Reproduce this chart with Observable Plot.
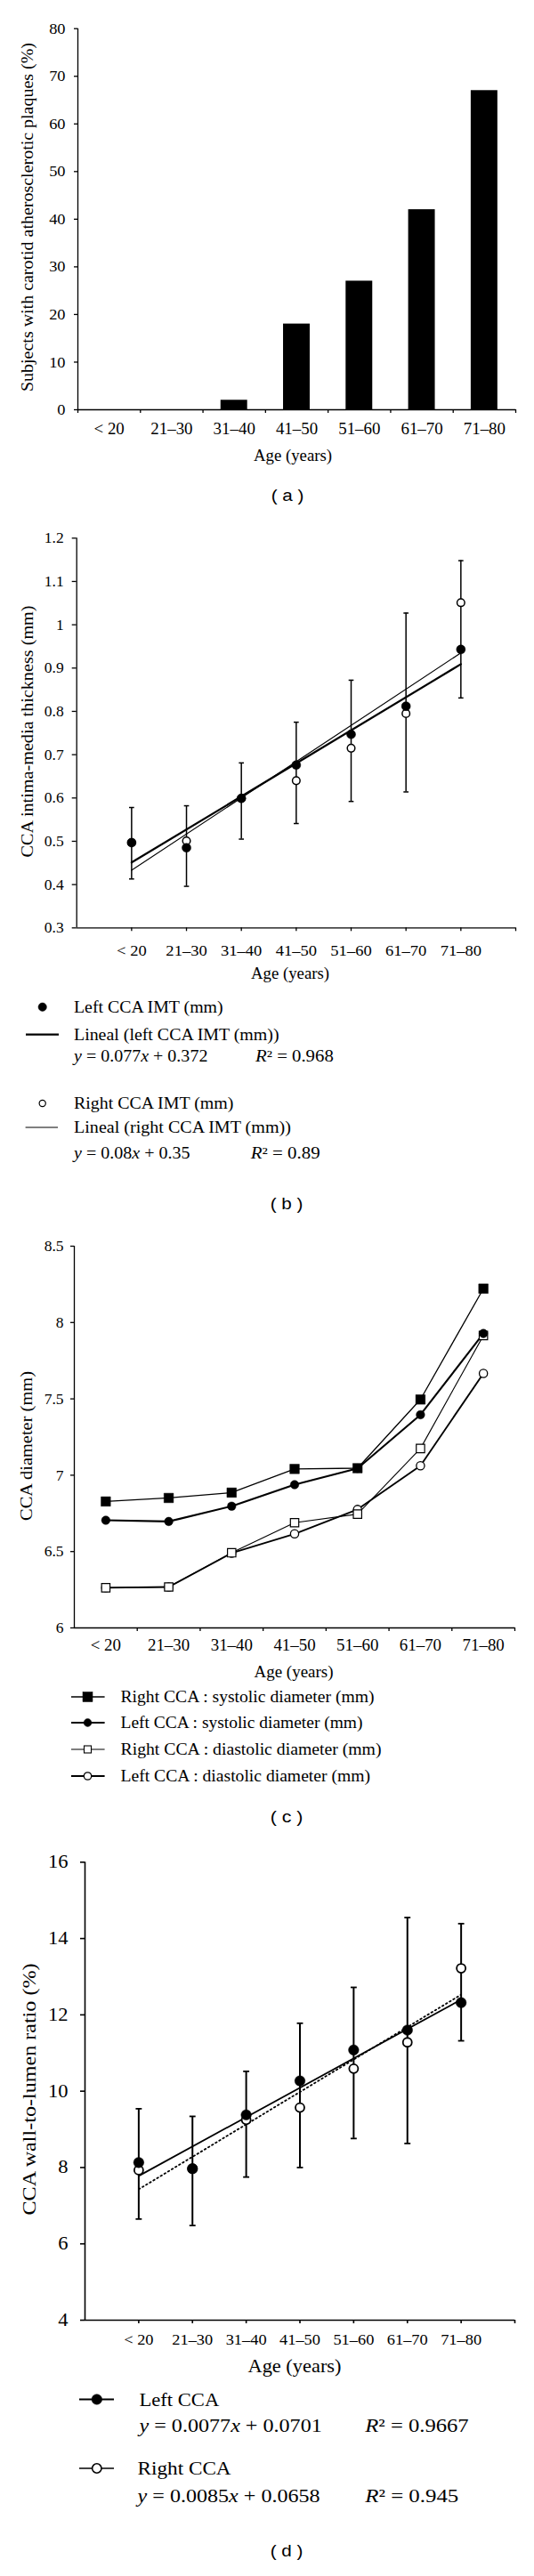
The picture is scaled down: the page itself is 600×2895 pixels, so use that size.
<!DOCTYPE html>
<html>
<head>
<meta charset="utf-8">
<script src="https://cdn.jsdelivr.net/npm/d3@7"></script>
<script src="https://cdn.jsdelivr.net/npm/@observablehq/plot@0.6"></script>
<style>
  html, body { margin: 0; padding: 0; background: #fff; }
  #wrap { position: relative; width: 600px; height: 2895px; overflow: hidden; background: #fff; }
  #wrap > svg { position: absolute; left: 0; }
</style>
</head>
<body>
<div id="wrap"></div>
<script>
const SERIF = "'Liberation Serif','DejaVu Serif',serif";
const SANS = "'Liberation Sans','DejaVu Sans',sans-serif";

// ---------- DATA ----------
const ageGroups = ["< 20", "21–30", "31–40", "41–50", "51–60", "61–70", "71–80"];

// (a) subjects with carotid atherosclerotic plaques (%)
const plaquePct = [0, 0, 2, 18, 27, 42, 67];

// (b) CCA intima-media thickness (mm)
const imtLeft      = [0.497, 0.485, 0.599, 0.676, 0.747, 0.812, 0.943];
const imtRight     = [0.497, 0.501, 0.599, 0.640, 0.715, 0.795, 1.051];
const imtErrHigh   = [0.578, 0.582, 0.681, 0.775, 0.872, 1.027, 1.148];
const imtErrLow    = [0.413, 0.396, 0.505, 0.541, 0.592, 0.614, 0.831];
const imtTrendLeft  = [0.451, 0.909];  // fitted line at first / last group
const imtTrendRight = [0.433, 0.935];
const imtTicks = [0.3, 0.4, 0.5, 0.6, 0.7, 0.8, 0.9, 1, 1.1, 1.2];

// (c) CCA diameter (mm)
const rightSystolic  = [6.828, 6.851, 6.886, 7.041, 7.046, 7.496, 8.222];
const leftSystolic   = [6.705, 6.697, 6.797, 6.938, 7.045, 7.396, 7.928];
const rightDiastolic = [6.263, 6.268, 6.492, 6.689, 6.745, 7.175, 7.915];
const leftDiastolic  = [6.263, 6.268, 6.490, 6.616, 6.776, 7.062, 7.667];
const diamTicks = [6, 6.5, 7, 7.5, 8, 8.5];

// (d) CCA wall-to-lumen ratio (%)
const wlrLeft    = [8.13, 7.97, 9.38, 10.27, 11.08, 11.60, 12.32];
const wlrRight   = [7.93, 7.97, 9.25, 9.57, 10.59, 11.28, 13.22];
const wlrErrHigh = [9.54, 9.34, 10.52, 11.78, 12.72, 14.55, 14.39];
const wlrErrLow  = [6.65, 6.48, 7.75, 8.00, 8.76, 8.63, 11.32];
const wlrTrendLeft  = [7.78, 12.40];
const wlrTrendRight = [7.43, 12.53];
const wlrTicks = [4, 6, 8, 10, 12, 14, 16];

// ---------- HELPERS ----------
const wrap = d3.select("#wrap");
function place(svg, top, fonts) {
  svg.style.position = "absolute";
  svg.style.top = top + "px";
  svg.style.left = "0px";
  wrap.node().appendChild(svg);
  // enforce tick label font sizes and a slight horizontal stretch (wider book face)
  d3.select(svg).selectAll("g[aria-label]").each(function () {
    const f = fonts[this.getAttribute("aria-label")];
    if (!f) return;
    d3.select(this).style("font-size", f.size + "px").style("font-family", SERIF);
    d3.select(this).selectAll("text").each(function () {
      const w = this.getComputedTextLength();
      if (w > 0 && f.stretch) {
        this.setAttribute("textLength", w * f.stretch);
        this.setAttribute("lengthAdjust", "spacingAndGlyphs");
      }
    });
  });
}
const baseStyle = (fs) => ({fontFamily: SERIF, fontSize: fs + "px", color: "#000", background: "none", overflow: "visible"});
const AX = 1.3;

// ---------- PANEL A ----------
const tableA = ageGroups.map((g, i) => ({group: g, pos: i + 0.5, value: plaquePct[i]}));
const BAR_HALF = 0.213;
const pa = Plot.plot({
  width: 600, height: 530,
  marginTop: 31.7, marginBottom: 70, marginLeft: 87, marginRight: 21,
  style: baseStyle(18),
  x: {type: "linear", domain: [0, 7]},
  y: {type: "linear", domain: [0, 80]},
  marks: [
    Plot.rectY(tableA.filter(d => d.value > 0), {x1: d => d.pos - BAR_HALF, x2: d => d.pos + BAR_HALF, y: "value", fill: "#000"}),
    Plot.ruleX([0], {stroke: "#000", strokeWidth: AX}),
    Plot.ruleY([0], {stroke: "#000", strokeWidth: AX}),
    Plot.axisY({ticks: d3.range(0, 81, 10), tickSize: 4, tickPadding: 10, strokeWidth: AX, label: null}),
    Plot.axisX({ticks: d3.range(0, 8), tickSize: 4, strokeWidth: AX, tickFormat: () => "", label: null}),
    Plot.axisX({ticks: tableA.map(d => d.pos), tickSize: 0, tickPadding: 15, tickFormat: t => ageGroups[Math.floor(t)], label: null})
  ]
});
place(pa, 0, {"x-axis tick label": {size: 18, stretch: 1.05}, "y-axis tick label": {size: 17.5, stretch: 1.05}});

// ---------- PANEL B ----------
const tableB = ageGroups.map((g, i) => ({group: g, pos: i + 1, left: imtLeft[i], right: imtRight[i], hi: imtErrHigh[i], lo: imtErrLow[i]}));
const trendB = [
  {pos: 1, left: imtTrendLeft[0], right: imtTrendRight[0]},
  {pos: ageGroups.length, left: imtTrendLeft[1], right: imtTrendRight[1]}
];
const CAP_B = 0.046;
const pb = Plot.plot({
  width: 600, height: 500,
  marginTop: 24.3, marginBottom: 37.7, marginLeft: 85.7, marginRight: 21,
  style: baseStyle(17.5),
  x: {type: "linear", domain: [0, 8]},
  y: {type: "linear", domain: [0.3, 1.2]},
  marks: [
    Plot.ruleX(tableB, {x: "pos", y1: "lo", y2: "hi", stroke: "#000", strokeWidth: 1.5}),
    Plot.link(tableB, {x1: d => d.pos - CAP_B, x2: d => d.pos + CAP_B, y1: "hi", y2: "hi", stroke: "#000", strokeWidth: 1.5}),
    Plot.link(tableB, {x1: d => d.pos - CAP_B, x2: d => d.pos + CAP_B, y1: "lo", y2: "lo", stroke: "#000", strokeWidth: 1.5}),
    Plot.line(trendB, {x: "pos", y: "right", stroke: "#000", strokeWidth: 1.1}),
    Plot.line(trendB, {x: "pos", y: "left", stroke: "#000", strokeWidth: 2.2}),
    Plot.dot(tableB, {x: "pos", y: "right", r: 4.3, fill: "#fff", stroke: "#000", strokeWidth: 1.5}),
    Plot.dot(tableB, {x: "pos", y: "left", r: 5, fill: "#000", stroke: "#000", strokeWidth: 0.5}),
    Plot.ruleX([0], {stroke: "#000", strokeWidth: AX}),
    Plot.ruleY([0.3], {stroke: "#000", strokeWidth: AX}),
    Plot.axisY({ticks: imtTicks, tickFormat: d => String(d), tickSize: 5, tickPadding: 9.5, strokeWidth: AX, label: null}),
    Plot.axisX({ticks: d3.range(1, 9), tickFormat: t => ageGroups[t - 1] ?? "", tickSize: 4, tickPadding: 15, strokeWidth: AX, label: null})
  ]
});
place(pb, 580, {"x-axis tick label": {size: 17.5, stretch: 1.06}, "y-axis tick label": {size: 17.5, stretch: 1.0}});

// ---------- PANEL C ----------
const seriesC = [
  {key: "leftDia",  values: leftDiastolic,  symbol: "circle", fill: "#fff", r: 4.6, lw: 1.9, sw: 1.3},
  {key: "rightDia", values: rightDiastolic, symbol: "square", fill: "#fff", r: 5.3, lw: 1.1, sw: 1.2},
  {key: "leftSys",  values: leftSystolic,   symbol: "circle", fill: "#000", r: 4.8, lw: 2.1, sw: 0.5},
  {key: "rightSys", values: rightSystolic,  symbol: "square", fill: "#000", r: 6.0, lw: 1.3, sw: 0.5}
];
const marksC = [];
for (const s of seriesC) {
  const rows = s.values.map((v, i) => ({group: ageGroups[i], pos: i + 0.5, value: v}));
  marksC.push(Plot.line(rows, {x: "pos", y: "value", stroke: "#000", strokeWidth: s.lw}));
}
for (const s of seriesC) {
  const rows = s.values.map((v, i) => ({group: ageGroups[i], pos: i + 0.5, value: v}));
  marksC.push(Plot.dot(rows, {x: "pos", y: "value", symbol: s.symbol, r: s.r, fill: s.fill, stroke: "#000", strokeWidth: s.sw}));
}
const pc = Plot.plot({
  width: 600, height: 500,
  marginTop: 20, marginBottom: 51, marginLeft: 83, marginRight: 22,
  style: baseStyle(17.5),
  x: {type: "linear", domain: [0, 7]},
  y: {type: "linear", domain: [6, 8.5]},
  marks: [
    ...marksC,
    Plot.ruleX([0], {stroke: "#000", strokeWidth: AX}),
    Plot.ruleY([6], {stroke: "#000", strokeWidth: AX}),
    Plot.axisY({ticks: diamTicks, tickFormat: d => String(d), tickSize: 4, tickPadding: 8, strokeWidth: AX, label: null}),
    Plot.axisX({ticks: d3.range(1, 8), tickSize: 4, strokeWidth: AX, tickFormat: () => "", label: null}),
    Plot.axisX({ticks: ageGroups.map((g, i) => i + 0.5), tickSize: 0, tickPadding: 13, tickFormat: t => ageGroups[Math.floor(t)], label: null})
  ]
});
place(pc, 1380, {"x-axis tick label": {size: 18, stretch: 1.05}, "y-axis tick label": {size: 17.5, stretch: 1.0}});

// ---------- PANEL D ----------
const tableD = ageGroups.map((g, i) => ({group: g, pos: i + 1, left: wlrLeft[i], right: wlrRight[i], hi: wlrErrHigh[i], lo: wlrErrLow[i]}));
const trendD = [
  {pos: 1, left: wlrTrendLeft[0], right: wlrTrendRight[0]},
  {pos: ageGroups.length, left: wlrTrendLeft[1], right: wlrTrendRight[1]}
];
const CAP_D = 0.057;
const pd = Plot.plot({
  width: 600, height: 570,
  marginTop: 22.3, marginBottom: 33, marginLeft: 95, marginRight: 22,
  style: baseStyle(20),
  x: {type: "linear", domain: [0, 8]},
  y: {type: "linear", domain: [4, 16]},
  marks: [
    Plot.ruleX(tableD, {x: "pos", y1: "lo", y2: "hi", stroke: "#000", strokeWidth: 2}),
    Plot.link(tableD, {x1: d => d.pos - CAP_D, x2: d => d.pos + CAP_D, y1: "hi", y2: "hi", stroke: "#000", strokeWidth: 1.8}),
    Plot.link(tableD, {x1: d => d.pos - CAP_D, x2: d => d.pos + CAP_D, y1: "lo", y2: "lo", stroke: "#000", strokeWidth: 1.8}),
    Plot.line(trendD, {x: "pos", y: "right", stroke: "#000", strokeWidth: 1.8, strokeDasharray: "1.6,3.2"}),
    Plot.line(trendD, {x: "pos", y: "left", stroke: "#000", strokeWidth: 1.8}),
    Plot.dot(tableD, {x: "pos", y: "right", r: 5, fill: "#fff", stroke: "#000", strokeWidth: 1.8}),
    Plot.dot(tableD, {x: "pos", y: "left", r: 5.8, fill: "#000", stroke: "#000", strokeWidth: 0.5}),
    Plot.ruleX([0], {stroke: "#000", strokeWidth: 1.6}),
    Plot.ruleY([4], {stroke: "#000", strokeWidth: 1.6}),
    Plot.axisY({ticks: wlrTicks, tickFormat: d => String(d), tickSize: 5, tickPadding: 14, strokeWidth: 1.6, label: null}),
    Plot.axisX({ticks: d3.range(1, 9), tickFormat: t => ageGroups[t - 1] ?? "", tickSize: 4, tickPadding: 11.5, strokeWidth: 1.6, label: null})
  ]
});
place(pd, 2070, {"x-axis tick label": {size: 17, stretch: 1.08}, "y-axis tick label": {size: 20.5, stretch: 1.1}});

// ---------- TEXT & LEGEND OVERLAY ----------
const overlay = d3.create("svg")
  .attr("width", 600).attr("height", 2895)
  .style("position", "absolute").style("left", "0px").style("top", "0px")
  .style("white-space", "pre");
wrap.node().appendChild(overlay.node());

function label(x, y, parts, {size = 18, family = SERIF, anchor = "start", width = null, rotate = false, base = 0.33} = {}) {
  const t = overlay.append("text")
    .attr("font-family", family).attr("font-size", size)
    .attr("fill", "#000").attr("text-anchor", anchor);
  if (rotate) t.attr("transform", `translate(${x},${y}) rotate(-90)`).attr("x", 0).attr("y", base * size);
  else t.attr("x", x).attr("y", y + base * size);
  (typeof parts === "string" ? [[parts, false]] : parts).forEach(([s, it]) =>
    t.append("tspan").attr("font-style", it ? "italic" : null).text(s));
  if (width) t.attr("textLength", width).attr("lengthAdjust", "spacingAndGlyphs");
  return t;
}
function lline(x1, x2, y, w) {
  overlay.append("line").attr("x1", x1).attr("x2", x2).attr("y1", y).attr("y2", y)
    .attr("stroke", "#000").attr("stroke-width", w);
}
function ldot(x, y, r, filled, sw = 1.2) {
  overlay.append("circle").attr("cx", x).attr("cy", y).attr("r", r)
    .attr("fill", filled ? "#000" : "#fff").attr("stroke", "#000").attr("stroke-width", sw);
}
function lsquare(x, y, side, filled, sw = 1.1) {
  overlay.append("rect").attr("x", x - side / 2).attr("y", y - side / 2).attr("width", side).attr("height", side)
    .attr("fill", filled ? "#000" : "#fff").attr("stroke", "#000").attr("stroke-width", sw);
}
const TAG = {size: 18, family: SANS, anchor: "middle", base: 0.27};

// Panel a texts
label(31, 244, "Subjects with carotid atherosclerotic plaques (%)", {size: 18, anchor: "middle", rotate: true, width: 392});
label(329, 512, "Age (years)", {size: 19, anchor: "middle", width: 88});
label(323, 558, "( a )", {...TAG, width: 36.7});

// Panel b texts + legend
label(30.5, 822, "CCA intima-media thickness (mm)", {size: 19, anchor: "middle", rotate: true, width: 283});
label(326, 1094, "Age (years)", {size: 19, anchor: "middle", width: 88});
ldot(47.7, 1131.7, 4.7, true, 0.5);
label(83, 1131.7, "Left CCA IMT (mm)", {size: 18.5, width: 167.6});
lline(29, 66, 1162.7, 2.2);
label(83, 1162.7, "Lineal (left CCA IMT (mm))", {size: 18.5, width: 230.5});
label(83, 1187, [["y", true], [" = 0.077", false], ["x", true], [" + 0.372", false]], {size: 18.5, width: 150.4});
label(287, 1187, [["R", true], ["² = 0.968", false]], {size: 18.5, width: 87.8});
ldot(47.7, 1240, 3.6, false, 1.2);
label(83, 1240, "Right CCA IMT (mm)", {size: 18.5, width: 179.4});
lline(28.6, 65, 1267, 1.1);
label(83, 1267, "Lineal (right CCA IMT (mm))", {size: 18.5, width: 243.9});
label(83, 1296, [["y", true], [" = 0.08", false], ["x", true], [" + 0.35", false]], {size: 18.5, width: 130.5});
label(281.7, 1296, [["R", true], ["² = 0.89", false]], {size: 18.5, width: 77.9});
label(322, 1354.5, "( b )", {...TAG, width: 36.7});

// Panel c texts + legend
label(30, 1625, "CCA diameter (mm)", {size: 19, anchor: "middle", rotate: true, width: 168});
label(330, 1879, "Age (years)", {size: 19, anchor: "middle", width: 89});
const legC = [
  ["Right CCA : systolic diameter (mm)", 1907, 285, 1.3, () => lsquare(98.5, 1907, 11, true, 0.5)],
  ["Left CCA : systolic diameter (mm)", 1936, 272, 2.1, () => ldot(98.5, 1936, 4.4, true, 0.5)],
  ["Right CCA : diastolic diameter (mm)", 1966, 293, 1.1, () => lsquare(98.5, 1966, 8, false, 1.1)],
  ["Left CCA : diastolic diameter (mm)", 1996, 280.5, 1.9, () => ldot(98.5, 1996, 4.2, false, 1.3)]
];
for (const [txt, y, w, lw, sym] of legC) {
  lline(80, 117.6, y, lw);
  sym();
  label(135.5, y, txt, {size: 19, width: w});
}
label(322, 2043, "( c )", {...TAG, width: 36.7});

// Panel d texts + legend
label(33, 2348, "CCA wall-to-lumen ratio (%)", {size: 21, anchor: "middle", rotate: true, width: 283});
label(331, 2658.5, "Age (years)", {size: 22, anchor: "middle", width: 105});
lline(89, 128, 2696.5, 2);
ldot(108.8, 2696.5, 5.8, true, 0.5);
label(156.5, 2696.5, "Left CCA", {size: 22, width: 89.7});
label(156.5, 2726, [["y", true], [" = 0.0077", false], ["x", true], [" + 0.0701", false]], {size: 22, width: 205.3});
label(410.3, 2726, [["R", true], ["² = 0.9667", false]], {size: 22, width: 116.4});
lline(89, 128, 2774, 1.5);
ldot(108.8, 2774, 5.2, false, 1.6);
label(154.6, 2774, "Right CCA", {size: 22, width: 105});
label(154.6, 2805, [["y", true], [" = 0.0085", false], ["x", true], [" + 0.0658", false]], {size: 22, width: 205});
label(410.3, 2805, [["R", true], ["² = 0.945", false]], {size: 22, width: 105});
label(322, 2868, "( d )", {...TAG, width: 36.7});
</script>
</body>
</html>
